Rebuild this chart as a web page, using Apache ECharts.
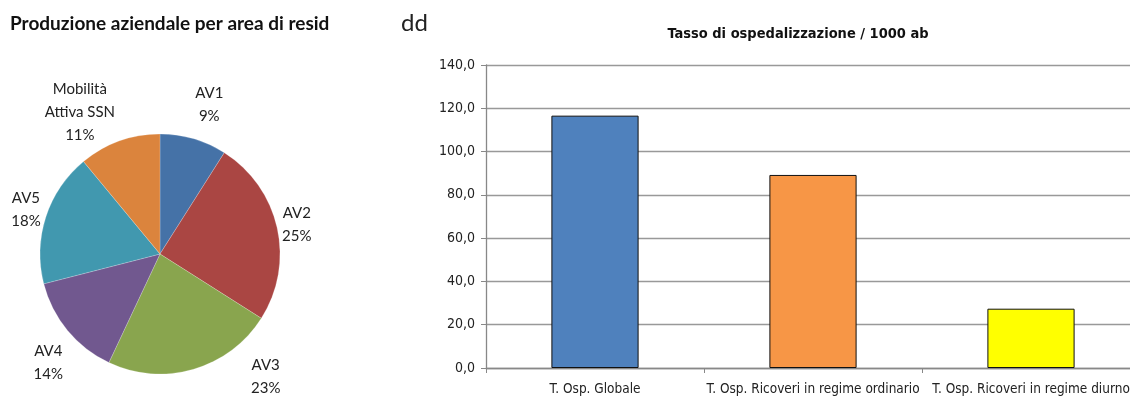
<!DOCTYPE html>
<html><head><meta charset="utf-8">
<script src="https://cdn.jsdelivr.net/npm/echarts@6/dist/echarts.min.js"></script>
<style>html,body{margin:0;padding:0;background:#fff}#c{width:1130px;height:400px}</style>
</head><body><div id="c"></div>
<script>
// ---- data ----
const pieNames = ['AV1', 'AV2', 'AV3', 'AV4', 'AV5', 'Mobilità\nAttiva SSN'];
const pieValues = [9, 25, 23, 14, 18, 11];
const pieColors = ['#4572A7', '#AA4643', '#89A54E', '#71588F', '#4198AF', '#DB843D'];
const barCategories = ['T. Osp. Globale', 'T. Osp. Ricoveri in regime ordinario', 'T. Osp. Ricoveri in regime diurno'];
const barValues = [116.6, 89.2, 27.4];
const barColors = ['#4F81BD', '#F79646', '#FFFF00'];
const yTicks = { min: 0, max: 140, interval: 20 };

// label placement tweaks (line lengths only)
const labelLen = [35, 13, 8, 51, 22, 31];
const labelLen2 = [-39, -38, 25, -65, -46, -16];

const pieData = pieNames.map((n, i) => ({
  name: n, value: pieValues[i],
  itemStyle: { color: pieColors[i] },
  labelLine: { show: false, length: labelLen[i], length2: labelLen2[i] }
}));

const narrow = '"Liberation Sans Narrow", "DejaVu Sans Condensed", sans-serif';
const chart = echarts.init(document.getElementById('c'), null, { renderer: 'canvas' });
chart.setOption({
  animation: false,
  title: [
    { text: 'Produzione aziendale per area di resid', left: 5, top: 9,
      textStyle: { fontFamily: 'Lato', fontSize: 19, fontWeight: 'bold', color: '#111' } },
    { text: 'dd', left: 396, top: 6,
      textStyle: { fontFamily: 'Lato', fontSize: 24, fontWeight: 'normal', color: '#222' } },
    { text: 'Tasso di ospedalizzazione / 1000 ab', left: 793, top: 22, textAlign: 'center',
      textStyle: { fontFamily: narrow, fontSize: 14.5, fontWeight: 'bold', color: '#111' } }
  ],
  grid: { left: 486, width: 654, top: 65, bottom: 32, containLabel: false, outerBoundsMode: 'none' },
  xAxis: {
    type: 'category', data: barCategories,
    axisLine: { lineStyle: { color: '#888', width: 1.3 } },
    axisTick: { show: true, length: 5, alignWithLabel: false, lineStyle: { color: '#888' } },
    axisLabel: { margin: 14, fontFamily: narrow, fontSize: 13.5, color: '#222', interval: 0 }
  },
  yAxis: {
    type: 'value', min: yTicks.min, max: yTicks.max, interval: yTicks.interval,
    axisLine: { show: true, lineStyle: { color: '#888', width: 1.3 } },
    axisTick: { show: true, length: 5, lineStyle: { color: '#888' } },
    splitLine: { lineStyle: { color: '#999', width: 1.4 } },
    axisLabel: { margin: 11, fontFamily: narrow, fontSize: 14, color: '#222',
      formatter: v => v.toFixed(1).replace('.', ',') }
  },
  series: [
    {
      type: 'pie', center: [160, 254], radius: 120, startAngle: 90, clockwise: true,
      avoidLabelOverlap: false,
      data: pieData,
      itemStyle: { borderColor: 'rgba(255,255,255,0.4)', borderWidth: 0.5 },
      label: {
        show: true, position: 'outside', alignTo: 'none', distanceToLabelLine: 5,
        formatter: p => p.name.split('\n').map(s => '{c|' + s + '}').join('\n') + '\n{c|' + Math.round(p.percent) + '%}',
        rich: { c: { width: 80, align: 'center', fontFamily: 'Lato', fontSize: 15, color: '#222', lineHeight: 23 } }
      },
      emphasis: { disabled: true }
    },
    {
      type: 'bar', data: barValues.map((v, i) => ({ value: v, itemStyle: { color: barColors[i] } })),
      barWidth: '40%',
      itemStyle: { borderColor: '#111', borderWidth: 1 }
    }
  ]
});
</script></body></html>
